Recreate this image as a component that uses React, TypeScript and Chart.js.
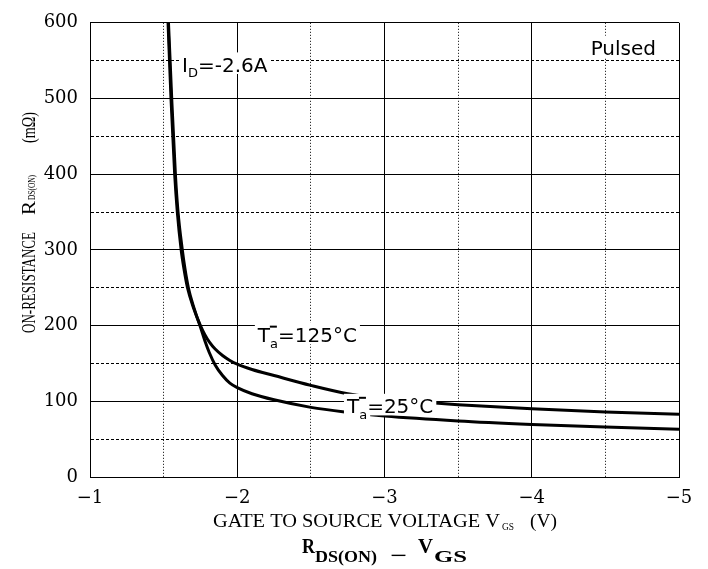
import React, { useEffect, useRef } from "react";
import { Chart, registerables } from "chart.js";

Chart.register(...registerables);

// Gate-source voltage (V) and on-resistance (mΩ), Ta = 25 °C
const vgs25 = [-1.52, -1.533, -1.555, -1.58, -1.598, -1.627, -1.645, -1.668, -1.705, -1.75, -1.78, -1.81, -1.85, -1.9, -1.95, -2.0, -2.1, -2.25, -2.5, -2.75, -3.0, -3.5, -4.0, -4.5, -5.0];
const rds25 = [650, 600, 500, 400, 350, 300, 275, 250, 224, 198, 180, 164.5, 148, 134, 124, 118, 110, 102, 92, 85.5, 80.5, 74, 69.5, 66, 63];

// Ta = 125 °C
const vgs125 = [-1.52, -1.53, -1.55, -1.575, -1.593, -1.619, -1.638, -1.662, -1.702, -1.75, -1.78, -1.81, -1.85, -1.9, -1.95, -2.0, -2.1, -2.25, -2.5, -2.75, -3.0, -3.25, -3.5, -4.0, -4.5, -5.0];
const rds125 = [650, 600, 500, 400, 350, 300, 275, 250, 224, 200, 188, 178.5, 169, 160.5, 154, 149, 142, 134, 121, 110, 103.5, 99, 95.5, 90, 86, 83];

// Axis ticks
const xTickValues = [-1, -2, -3, -4, -5];
const xTickLabels = ["\u22121", "\u22122", "\u22123", "\u22124", "\u22125"];
const yTickValues = [0, 100, 200, 300, 400, 500, 600];
const yTickLabels = ["0", "100", "200", "300", "400", "500", "600"];

const SANS = "'DejaVu Sans', sans-serif";
const SERIF = "'Liberation Serif', 'DejaVu Serif', serif";

type Part = { t: string; size: number; dy: number };

// Text pieces (main text + subscripts) on white boxes, starting at (x0, y0) baseline
function drawNote(ctx: CanvasRenderingContext2D, x0: number, y0: number, parts: Part[], bar?: boolean) {
  ctx.save();
  ctx.textBaseline = "alphabetic";
  ctx.textAlign = "left";
  const mainSize = parts[0].size;
  const top = y0 - mainSize * 0.73 - 5;
  let x = x0;
  const placed: { t: string; x: number; y: number; font: string; w: number; bottom: number }[] = [];
  for (const p of parts) {
    const font = `${p.size}px ${SANS}`;
    ctx.font = font;
    const m = ctx.measureText(p.t);
    const bottom = p.dy > 0 ? y0 + p.dy + Math.max(m.actualBoundingBoxDescent, 0) + 1 : y0 + 2;
    placed.push({ t: p.t, x, y: y0 + p.dy, font, w: m.width, bottom });
    x += m.width;
  }
  ctx.fillStyle = "#fff";
  for (const p of placed) {
    ctx.fillRect(p.x - 3, top, p.w + 6, p.bottom - top);
  }
  ctx.fillStyle = "#000";
  for (const p of placed) {
    ctx.font = p.font;
    ctx.fillText(p.t, p.x, p.y);
  }
  if (bar) {
    const capTop = y0 - mainSize * 0.73;
    ctx.fillRect(x0 + 12, capTop - 2, 7, 2);
  }
  ctx.restore();
}

// Text squeezed horizontally to a given advance width
function drawFitted(ctx: CanvasRenderingContext2D, text: string, font: string, x: number, y: number, width: number) {
  ctx.save();
  ctx.font = font;
  const w = ctx.measureText(text).width;
  ctx.translate(x, y);
  ctx.scale(width / w, 1);
  ctx.fillText(text, 0, 0);
  ctx.restore();
}

const notesPlugin = {
  id: "notes",
  afterDraw(chart: any) {
    const { ctx } = chart;
    const xs = chart.scales.x;
    const ys = chart.scales.y;
    const px = (v: number) => xs.getPixelForValue(v);
    const py = (v: number) => ys.getPixelForValue(v);

    drawNote(ctx, px(-1.625), py(535), [
      { t: "I", size: 20, dy: 0 },
      { t: "D", size: 13, dy: 5 },
      { t: "=-2.6A", size: 20, dy: 0 },
    ]);
    drawNote(ctx, px(-4.4), py(557), [{ t: "Pulsed", size: 20, dy: 0 }]);
    drawNote(ctx, px(-2.14), py(178), [
      { t: "T", size: 20, dy: 0 },
      { t: "a", size: 13, dy: 6 },
      { t: "=125°C", size: 20, dy: 0 },
    ], true);
    drawNote(ctx, px(-2.745), py(84), [
      { t: "T", size: 20, dy: 0 },
      { t: "a", size: 13, dy: 6 },
      { t: "=25°C", size: 20, dy: 0 },
    ], true);

    // Axis titles
    ctx.save();
    ctx.fillStyle = "#000";
    ctx.textBaseline = "alphabetic";
    ctx.textAlign = "left";
    const f19 = `19px ${SERIF}`;
    drawFitted(ctx, "GATE TO SOURCE VOLTAGE V", f19, 213, 527, 287);
    drawFitted(ctx, "GS", `10px ${SERIF}`, 502, 530, 12);
    drawFitted(ctx, "(V)", f19, 530, 527, 27);

    // Vertical title, read bottom to top
    ctx.save();
    ctx.translate(35, 333);
    ctx.rotate(-Math.PI / 2);
    drawFitted(ctx, "ON-RESISTANCE", f19, 0, 0, 101);
    drawFitted(ctx, "R", f19, 118, 0, 14);
    drawFitted(ctx, "DS(ON)", `10px ${SERIF}`, 133, 0, 25);
    drawFitted(ctx, "(mΩ)", f19, 190, 0, 31);
    ctx.restore();

    // Chart caption
    const b20 = `bold 20px ${SERIF}`;
    const b17 = `bold 17px ${SERIF}`;
    drawFitted(ctx, "R", b20, 302, 553, 13);
    drawFitted(ctx, "DS(ON)", b17, 315, 562, 62);
    drawFitted(ctx, "\u2212", b20, 390, 562, 17);
    drawFitted(ctx, "V", b20, 418, 553, 15);
    drawFitted(ctx, "GS", b17, 434, 562, 33);
    ctx.restore();
  },
};

export default function App() {
  const ref = useRef<HTMLCanvasElement | null>(null);

  useEffect(() => {
    const canvas = ref.current;
    if (!canvas) return;
    const dash = (ctx: any, major: number, pattern: number[]) => {
      if (!ctx.tick) return [];
      const v = ctx.tick.value;
      return Math.abs(v / major - Math.round(v / major)) < 1e-6 ? [] : pattern;
    };
    const curve = (label: string, xs: number[], ys: number[]) => ({
      label,
      data: xs.map((v, i) => ({ x: v, y: ys[i] })),
      borderColor: "#000",
      borderWidth: 3,
      pointRadius: 0,
      cubicInterpolationMode: "monotone",
      clip: 0,
    });
    const chart = new Chart(canvas, {
      type: "line",
      data: {
        datasets: [curve("Ta=25°C", vgs25, rds25), curve("Ta=125°C", vgs125, rds125)],
      },
      options: {
        animation: false,
        responsive: false,
        layout: { padding: { left: 0, top: 12, right: 29, bottom: 0 } },
        plugins: { legend: { display: false }, tooltip: { enabled: false } },
        scales: {
          x: {
            type: "linear",
            reverse: true,
            min: -5,
            max: -1,
            afterFit: (s: any) => {
              s.height = 92;
            },
            ticks: {
              stepSize: 0.5,
              autoSkip: false,
              maxRotation: 0,
              padding: 11,
              color: "#000",
              font: { family: "'DejaVu Serif', serif", size: 18 },
              callback: (v: any) => {
                const i = xTickValues.indexOf(Number(v));
                return i >= 0 ? xTickLabels[i] : "";
              },
            },
            grid: { color: "#000", lineWidth: 1, drawTicks: false },
            border: { display: true, color: "#000", width: 1, dash: (c: any) => dash(c, 1, [1, 2]) },
          },
          y: {
            type: "linear",
            min: 0,
            max: 600,
            afterFit: (s: any) => {
              s.width = 90;
            },
            ticks: {
              stepSize: 50,
              autoSkip: false,
              padding: 12,
              color: "#000",
              font: { family: "'DejaVu Serif', serif", size: 18 },
              callback: (v: any) => {
                const i = yTickValues.indexOf(Number(v));
                return i >= 0 ? yTickLabels[i] : "";
              },
            },
            grid: { color: "#000", lineWidth: 1, drawTicks: false },
            border: { display: true, color: "#000", width: 1, dash: (c: any) => dash(c, 100, [3, 2]) },
          },
        },
      },
      plugins: [notesPlugin],
    } as any);
    return () => chart.destroy();
  }, []);

  return (
    <div style={{ position: "absolute", left: 0, top: 0, width: 708, height: 569, background: "#fff" }}>
      <canvas ref={ref} width={708} height={569} />
    </div>
  );
}
